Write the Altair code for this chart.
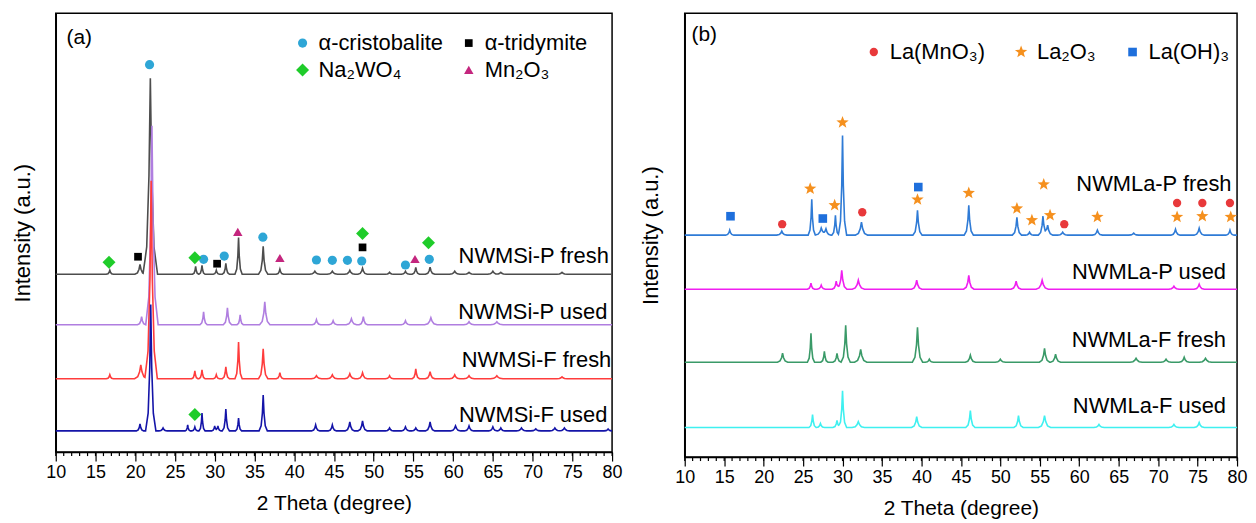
import altair as alt
import numpy as np
import pandas as pd

FONT = "Liberation Sans"

# ---------------- Panel (a) data ----------------
A_NAMES = ["NWMSi-P fresh", "NWMSi-P used", "NWMSi-F fresh", "NWMSi-F used"]
A_COLORS = ["#4d4d4d", "#b07ee0", "#ff3c3c", "#1414a8"]
A_OFFSETS = [178.7, 128.0, 73.7, 21.3]

a1_pos = [16.8, 20.6, 21.9, 27.6, 28.4, 30.2, 31.4, 33.0, 36.1, 38.2, 42.6, 44.8, 47.0, 48.6, 52.0, 54.0, 55.3, 57.1, 60.2, 62.0, 65.0, 66.0, 73.7]
a1_h = [4, 10, 197, 8, 9, 4, 11, 37, 28, 5, 3, 3, 4, 6, 2, 3, 7, 7, 3, 2, 3, 2, 2]
a1_w = [0.35, 0.5, 0.7, 0.3, 0.3, 0.3, 0.35, 0.35, 0.45, 0.35, 0.5, 0.5, 0.5, 0.45, 0.4, 0.4, 0.35, 0.45, 0.5, 0.5, 0.5, 0.5, 0.5]

a2_pos = [20.8, 22.1, 28.6, 31.6, 33.2, 36.3, 42.8, 44.9, 47.2, 48.7, 54.0, 57.2, 62.0, 65.5]
a2_h = [8, 200, 13, 17, 10, 23, 5, 4, 6, 8, 4, 7, 3, 3]
a2_w = [0.4, 0.6, 0.35, 0.4, 0.3, 0.5, 0.4, 0.4, 0.5, 0.4, 0.4, 0.6, 0.5, 0.6]

a3_pos = [16.8, 20.7, 22.0, 27.5, 28.4, 30.2, 31.4, 33.0, 36.1, 38.2, 42.8, 44.8, 47.0, 48.6, 52.0, 55.3, 57.1, 60.2, 62.0, 65.5, 73.7]
a3_h = [4, 14, 199, 8, 9, 4, 12, 37, 30, 6, 3, 4, 5, 6, 3, 10, 7, 4, 3, 3, 2]
a3_w = [0.35, 0.6, 0.6, 0.3, 0.3, 0.3, 0.35, 0.35, 0.45, 0.35, 0.5, 0.5, 0.5, 0.45, 0.4, 0.35, 0.45, 0.5, 0.5, 0.6, 0.5]

a4_pos = [20.6, 21.95, 23.5, 26.6, 27.5, 28.4, 30.0, 30.4, 31.4, 33.0, 36.1, 42.7, 44.8, 47.0, 48.6, 52.0, 54.0, 55.3, 57.1, 60.3, 62.0, 65.0, 66.0, 68.6, 70.4, 72.8, 74.0, 79.5]
a4_h = [7, 127, 3, 6, 4, 18, 5, 5, 22, 13, 36, 6, 6, 9, 10, 3, 4, 3, 9, 5, 5, 4, 3, 3, 2, 3, 3, 2]
a4_w = [0.35, 0.5, 0.4, 0.25, 0.3, 0.3, 0.3, 0.3, 0.35, 0.3, 0.4, 0.4, 0.4, 0.45, 0.45, 0.4, 0.4, 0.4, 0.45, 0.5, 0.45, 0.4, 0.4, 0.5, 0.5, 0.5, 0.5, 0.4]

# legend order is column-major in a 2-column grid
A_PHASES = ["α-cristobalite", "Na₂WO₄", "α-tridymite", "Mn₂O₃"]
A_PHASE_COLORS = ["#2ea6d6", "#1fcc2a", "#000000", "#c4267e"]
A_PHASE_SHAPES = ["circle", "diamond", "square", "triangle-up"]
A_PHASE_SIZES = [85, 170, 60, 90]

a_mk_x = [21.8, 28.6, 31.2, 36.06, 42.8, 44.8, 46.7, 48.5, 54.0, 57.0,
          20.35, 30.3, 48.6,
          16.7, 27.5, 48.6, 56.9, 27.5,
          32.9, 38.2, 55.2]
a_mk_y = [389.3, 193.7, 197, 216, 193, 192.7, 192.7, 192, 188, 193.7,
          196.3, 189.3, 205.7,
          190.7, 195.3, 219.7, 210.3, 37.7,
          221.3, 195, 194]
a_mk_phase = (["α-cristobalite"] * 10 + ["α-tridymite"] * 3 + ["Na₂WO₄"] * 5 + ["Mn₂O₃"] * 3)

a_lab_x = [79.6, 79.4, 79.9, 79.4]
a_lab_y = [197, 140.3, 93, 37]

# ---------------- Panel (b) data ----------------
B_NAMES = ["NWMLa-P fresh", "NWMLa-P used", "NWMLa-F fresh", "NWMLa-F used"]
B_COLORS = ["#2f7bd6", "#f01ef0", "#3a9a68", "#3ff0f0"]
B_OFFSETS = [223.0, 168.7, 95.3, 29.7]

b1_pos = [15.7, 22.3, 26.1, 27.3, 27.9, 29.1, 30.0, 32.4, 39.5, 46.0, 52.1, 53.7, 55.4, 56.0, 57.9, 62.3, 66.9, 72.2, 75.2, 79.1]
b1_h = [5, 4, 36, 7, 6, 20, 100, 13, 25, 30, 18, 3, 19, 10, 3, 5, 2, 6, 7, 5]
b1_w = [0.4, 0.5, 0.35, 0.6, 0.5, 0.35, 0.4, 0.6, 0.45, 0.45, 0.45, 0.4, 0.45, 0.5, 0.5, 0.5, 0.5, 0.45, 0.5, 0.4]

b2_pos = [26.0, 27.3, 29.2, 29.9, 32.0, 39.4, 46.0, 52.0, 55.3, 72.0, 75.2]
b2_h = [6, 4, 8, 19, 9, 9, 14, 8, 9, 3, 5]
b2_w = [0.35, 0.4, 0.4, 0.5, 0.6, 0.5, 0.5, 0.5, 0.6, 0.5, 0.5]

b3_pos = [22.4, 26.0, 27.7, 29.3, 30.4, 32.3, 39.5, 41.0, 46.2, 50.0, 55.6, 57.0, 67.2, 71.0, 73.3, 76.0]
b3_h = [9, 29, 11, 9, 37, 13, 35, 3, 7, 3, 14, 8, 4, 3, 5, 4]
b3_w = [0.5, 0.35, 0.35, 0.4, 0.45, 0.6, 0.5, 0.4, 0.5, 0.5, 0.5, 0.5, 0.6, 0.5, 0.5, 0.6]

b4_pos = [26.2, 27.2, 29.3, 30.0, 32.0, 39.4, 46.2, 52.3, 55.6, 62.5, 72.0, 75.2]
b4_h = [13, 4, 7, 37, 6, 11, 17, 12, 12, 3, 3, 5]
b4_w = [0.35, 0.4, 0.4, 0.4, 0.6, 0.5, 0.45, 0.45, 0.6, 0.5, 0.5, 0.5]

B_PHASES = ["La(MnO₃)", "La₂O₃", "La(OH)₃"]
B_PHASE_COLORS = ["#e8393b", "#f5901e", "#1e6fdc"]
B_PHASE_SIZES = [70, 170, 75]

b_mk_x = [22.35, 32.5, 58.1, 72.4, 75.6, 79.1,
          25.9, 29.0, 30.0, 39.5, 46.0, 52.1, 54.0, 55.5, 56.3, 62.3, 72.4, 75.6, 79.2,
          15.8, 27.5, 39.6]
b_mk_y = [234, 246, 234, 255.3, 255.3, 255.3,
          269.7, 253, 336.3, 258.7, 265.3, 249.7, 238, 274, 243, 241.3, 241.3, 242, 241.3,
          242, 239.7, 271.3]
b_mk_phase = [B_PHASES[0]] * 6 + [B_PHASES[1]] * 13 + [B_PHASES[2]] * 3

b_lab_x = [79.3, 78.6, 78.6, 78.6]
b_lab_y = [274.7, 186.3, 118, 51.3]

MINOR_TICKS = list(range(10, 81))
MAJOR_TICKS = list(range(10, 81, 5))

# ---------------- helpers ----------------
KX = np.array([-1.3, -0.65, -0.25, 0.0, 0.25, 0.65, 1.3])
KY = np.array([0.0, 0.14, 0.5, 1.0, 0.5, 0.14, 0.0])


def profile(pos, hgt, wid, offset):
    xs = [10.0, 80.0]
    for p, w in zip(pos, wid):
        xs.extend(list(p + KX * w))
    xs = np.unique(np.clip(np.array(xs), 10, 80))
    ys = np.full(xs.shape, float(offset))
    for p, h, w in zip(pos, hgt, wid):
        ys += h * np.interp(xs, p + KX * w, KY, left=0.0, right=0.0)
    return pd.DataFrame({"x": xs, "y": ys})


def star_path():
    pts = []
    for i in range(10):
        ang = np.deg2rad(-90 + i * 36)
        r = 1.0 if i % 2 == 0 else 0.42
        pts.append(f"{r*np.cos(ang):.3f},{r*np.sin(ang):.3f}")
    return "M" + " L".join(pts) + " Z"


def panel(series, colors, names, lab_x, lab_y, mk_x, mk_y, mk_phase,
          phases, ph_colors, ph_shapes, ph_sizes, tag, tag_x, tag_y,
          width, height, ymax, title_pad, leg):
    xsc = alt.Scale(domain=[10, 80], nice=False, zero=False)
    ysc = alt.Scale(domain=[0, ymax], nice=False, zero=False)
    xax = alt.Axis(values=MAJOR_TICKS, title="2 Theta (degree)", grid=False,
                   tickSize=9, tickWidth=1.2, tickColor="black",
                   domainColor="black", domainWidth=1.5,
                   labelFontSize=18, labelFont=FONT, labelColor="black",
                   labelFlush=False, labelOverlap=False, labelPadding=3,
                   titleFontSize=21, titleFont=FONT, titleFontWeight="normal",
                   titleColor="black", titlePadding=11)
    yax = alt.Axis(labels=False, ticks=False, grid=False, domainColor="black",
                   domainWidth=1.5, title="Intensity (a.u.)", titleFontSize=22,
                   titleFont=FONT, titleFontWeight="normal", titleColor="black",
                   titlePadding=title_pad)
    X = lambda f: alt.X(f, scale=xsc, axis=xax)
    Y = lambda f: alt.Y(f, scale=ysc, axis=yax)

    layers = []
    for df, col in zip(series, colors):
        layers.append(alt.Chart(df).mark_line(strokeWidth=1.6, color=col)
                      .encode(x=X("x:Q"), y=Y("y:Q")))

    ticks = alt.Chart(pd.DataFrame({"t": MINOR_TICKS})).mark_rule(
        color="black", strokeWidth=1.2).encode(
        x=X("t:Q"), y=alt.value(height), y2=alt.value(height + 4))
    layers.append(ticks)

    mk = pd.DataFrame({"x": mk_x, "y": mk_y, "phase": mk_phase})
    legend = alt.Legend(title=None, orient="none", legendX=leg["x"], legendY=leg["y"],
                        columns=leg["cols"], labelFontSize=22, labelFont=FONT,
                        labelColor="black", padding=0, rowPadding=leg["rowpad"],
                        columnPadding=leg["colpad"], labelOffset=5,
                        symbolStrokeWidth=0, labelLimit=300)
    pts = alt.Chart(mk).mark_point(filled=True, opacity=1, strokeWidth=0).encode(
        x=X("x:Q"), y=Y("y:Q"),
        color=alt.Color("phase:N", scale=alt.Scale(domain=phases, range=ph_colors), legend=legend),
        shape=alt.Shape("phase:N", scale=alt.Scale(domain=phases, range=ph_shapes), legend=legend),
        size=alt.Size("phase:N", scale=alt.Scale(type="ordinal", domain=phases, range=ph_sizes),
                      legend=legend),
    )
    layers.append(pts)

    lab = pd.DataFrame({"x": lab_x, "y": lab_y, "name": names})
    layers.append(alt.Chart(lab).mark_text(align="right", baseline="middle", fontSize=22,
                                           font=FONT, color="black")
                  .encode(x=X("x:Q"), y=Y("y:Q"), text="name:N"))

    tg = pd.DataFrame({"x": [tag_x], "y": [tag_y], "t": [tag]})
    layers.append(alt.Chart(tg).mark_text(align="left", baseline="middle", fontSize=21,
                                          font=FONT, color="black")
                  .encode(x=X("x:Q"), y=Y("y:Q"), text="t:N"))

    return alt.layer(*layers).properties(width=width, height=height)


a_series = [profile(a1_pos, a1_h, a1_w, A_OFFSETS[0]),
            profile(a2_pos, a2_h, a2_w, A_OFFSETS[1]),
            profile(a3_pos, a3_h, a3_w, A_OFFSETS[2]),
            profile(a4_pos, a4_h, a4_w, A_OFFSETS[3])]
b_series = [profile(b1_pos, b1_h, b1_w, B_OFFSETS[0]),
            profile(b2_pos, b2_h, b2_w, B_OFFSETS[1]),
            profile(b3_pos, b3_h, b3_w, B_OFFSETS[2]),
            profile(b4_pos, b4_h, b4_w, B_OFFSETS[3])]

pa = panel(a_series, A_COLORS, A_NAMES, a_lab_x, a_lab_y, a_mk_x, a_mk_y, a_mk_phase,
           A_PHASES, A_PHASE_COLORS, A_PHASE_SHAPES, A_PHASE_SIZES,
           "(a)", 11.35, 416, 559, 441, 441, 21,
           {"x": 237, "y": 19, "cols": 2, "rowpad": 5, "colpad": 14})

pb = panel(b_series, B_COLORS, B_NAMES, b_lab_x, b_lab_y, b_mk_x, b_mk_y, b_mk_phase,
           B_PHASES, B_PHASE_COLORS, ["circle", star_path(), "square"], B_PHASE_SIZES,
           "(b)", 10.85, 424, 555, 446, 446, 22,
           {"x": 179, "y": 28, "cols": 3, "rowpad": 7, "colpad": 25})

chart = (alt.hconcat(pa, pb, spacing=16)
         .resolve_scale(x="independent", y="independent", color="independent",
                        shape="independent", size="independent")
         .properties(padding={"left": 3, "top": 3, "right": 0, "bottom": 0})
         .configure(font=FONT)
         .configure_view(stroke="black", strokeWidth=1.5))

chart.save("out.html", embed_options={"renderer": "svg", "actions": False})
